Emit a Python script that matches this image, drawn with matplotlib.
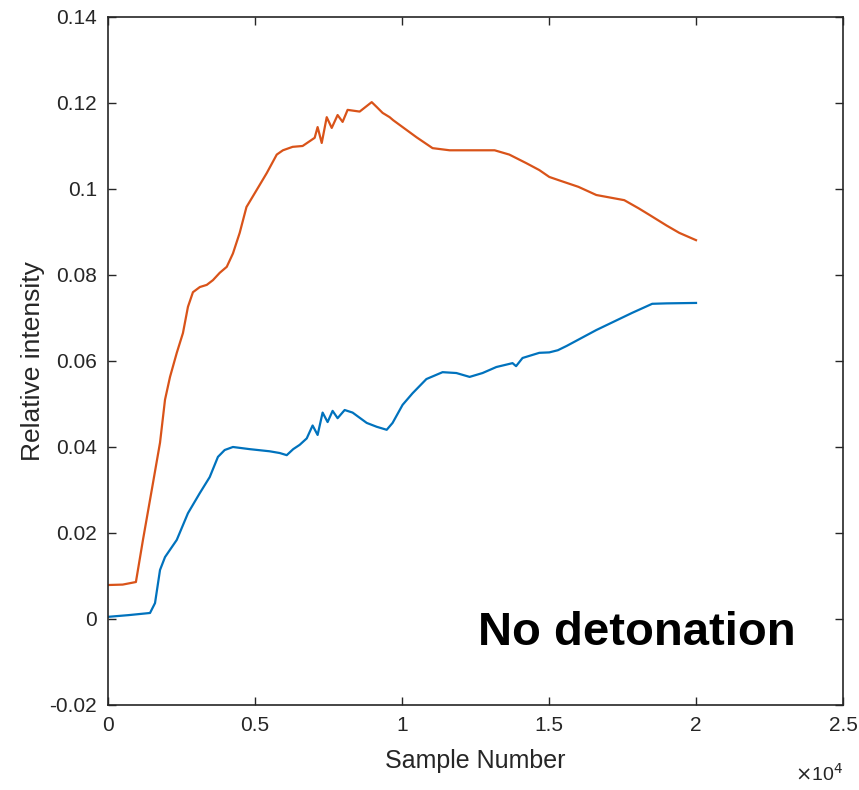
import matplotlib
matplotlib.use("Agg")
import matplotlib.pyplot as plt
from matplotlib.ticker import FuncFormatter

# ===============================
# Data
# ===============================
orange_x = [0, 500, 950, 1190, 1530, 1770, 1940, 2110, 2340, 2550, 2720, 2890,
            3125, 3360, 3570, 3800, 4040, 4250, 4480, 4710, 5060, 5400, 5740,
            5950, 6280, 6620, 7030, 7130, 7270, 7440, 7610, 7810, 7980, 8150,
            8560, 8970, 9150, 9340, 9580, 9700, 10160, 10500, 11040, 11620,
            12740, 13150, 13650, 14230, 14670, 15010, 15350, 16000, 16610,
            17560, 18050, 18410, 19000, 19430, 20000]
orange_y = [0.0079, 0.0080, 0.0086, 0.0184, 0.0316, 0.041, 0.051, 0.0563,
            0.0619, 0.0665, 0.0726, 0.076, 0.0772, 0.0777, 0.0788, 0.0805,
            0.0819, 0.085, 0.0898, 0.0958, 0.0998, 0.1037, 0.108, 0.109,
            0.1098, 0.110, 0.1119, 0.1144, 0.1107, 0.1167, 0.1142, 0.1172,
            0.1156, 0.1184, 0.118, 0.1202, 0.119, 0.1177, 0.1167, 0.116,
            0.1137, 0.112, 0.1095, 0.109, 0.109, 0.109, 0.108, 0.106, 0.1044,
            0.1028, 0.102, 0.1005, 0.0986, 0.0974, 0.0955, 0.094, 0.0915,
            0.0898, 0.0881]

blue_x = [0, 700, 1430, 1600, 1770, 1940, 2340, 2720, 3125, 3460, 3740, 3970,
          4250, 4820, 5500, 5840, 6080, 6300, 6520, 6760, 6960, 7130, 7300,
          7470, 7640, 7810, 8050, 8320, 8800, 9140, 9480, 9680, 10020, 10360,
          10830, 11380, 11850, 12300, 12740, 13210, 13760, 13880, 14100,
          14670, 15010, 15300, 15600, 16610, 17830, 18510, 19000, 20000]
blue_y = [0.0005, 0.0009, 0.0014, 0.0037, 0.0114, 0.0144, 0.0184, 0.0246,
          0.0293, 0.033, 0.0377, 0.0393, 0.040, 0.0395, 0.039, 0.0386,
          0.0381, 0.0395, 0.0405, 0.042, 0.045, 0.0428, 0.048, 0.0458,
          0.0484, 0.0467, 0.0486, 0.048, 0.0456, 0.0447, 0.044, 0.0456,
          0.0498, 0.0525, 0.0558, 0.0574, 0.0572, 0.0563, 0.0572, 0.0586,
          0.0595, 0.0588, 0.0607, 0.0619, 0.062, 0.0625, 0.0635, 0.0672,
          0.0712, 0.0733, 0.0734, 0.0735]

x_ticks = [0, 5000, 10000, 15000, 20000, 25000]
y_ticks = [-0.02, 0, 0.02, 0.04, 0.06, 0.08, 0.1, 0.12, 0.14]

# ===============================
# Figure
# ===============================
plt.rcParams['font.family'] = ['Liberation Sans', 'DejaVu Sans']
axis_col = "#262626"

fig = plt.figure(figsize=(8.59, 7.9), dpi=100)
ax = fig.add_axes([0.1257, 0.1076, 0.8557, 0.8709])

ax.plot(blue_x, blue_y, color="#0072BD", linewidth=1.6)
ax.plot(orange_x, orange_y, color="#D95319", linewidth=1.6)

ax.set_xlim(0, 25000)
ax.set_ylim(-0.02, 0.14)
ax.set_xticks(x_ticks)
ax.set_yticks(y_ticks)
ax.xaxis.set_major_formatter(FuncFormatter(lambda v, p: f"{v / 1e4:g}"))
ax.yaxis.set_major_formatter(FuncFormatter(lambda v, p: f"{v:g}"))

ax.tick_params(direction="in", top=True, right=True, length=6, width=1,
               colors=axis_col, labelsize=15, pad=8)
for s in ax.spines.values():
    s.set_color(axis_col)
    s.set_linewidth(1.2)

ax.set_xlabel("Sample Number", fontsize=18, color=axis_col, labelpad=10)
ax.set_ylabel("Relative intensity", fontsize=19, color=axis_col, labelpad=3)

# MATLAB-style exponent label below the axis
ax.text(1.0, -0.1, r"$\times$10$^4$", transform=ax.transAxes,
        ha="right", va="center", fontsize=14, color=axis_col)

ax.text(12570, -0.006, "No detonation", fontsize=34, fontweight="bold",
        ha="left", va="baseline", color="black")

fig.savefig("out.png", dpi=100)
